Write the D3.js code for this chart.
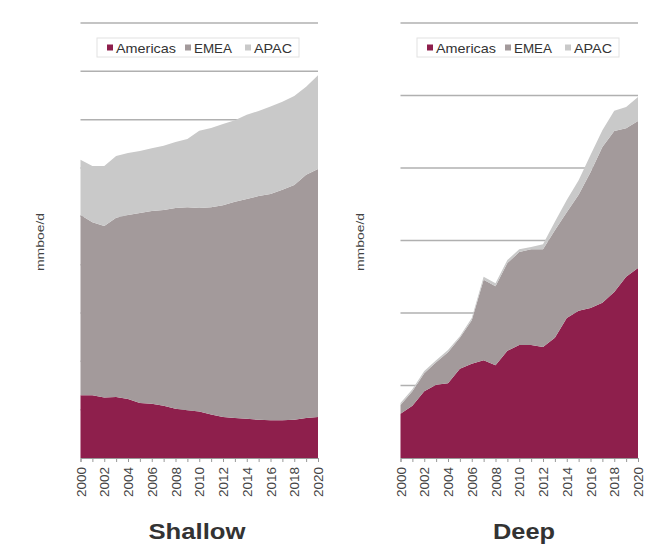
<!DOCTYPE html>
<html><head><meta charset="utf-8">
<script src="https://cdn.jsdelivr.net/npm/d3@7"></script>
<style>body{margin:0;background:#fff}svg{display:block}text{font-family:"Liberation Sans",Arial,sans-serif}</style>
</head><body><svg id="c" width="668" height="550"></svg>
<script>
const years = d3.range(2000, 2021);
const seriesNames = ["Americas", "EMEA", "APAC"];
const colors = ["#8E1F4C", "#A39A9B", "#C9C9C9"];
const titles = ["Shallow", "Deep"];
const yLabel = "mmboe/d";
const shallowAmericas = [1.30,1.30,1.25,1.26,1.22,1.14,1.12,1.08,1.02,0.99,0.96,0.90,0.85,0.83,0.81,0.79,0.78,0.78,0.79,0.83,0.85];
const shallowEMEA = [3.73,3.58,3.55,3.71,3.81,3.93,3.99,4.05,4.15,4.20,4.21,4.29,4.38,4.47,4.55,4.63,4.68,4.77,4.86,5.03,5.13];
const shallowAPAC = [1.14,1.16,1.24,1.28,1.28,1.28,1.30,1.33,1.37,1.41,1.60,1.64,1.68,1.69,1.74,1.76,1.81,1.82,1.84,1.82,1.94];
const deepAmericas = [0.61,0.72,0.92,1.01,1.03,1.23,1.30,1.35,1.28,1.48,1.56,1.56,1.53,1.66,1.93,2.03,2.07,2.14,2.29,2.50,2.62];
const deepEMEA = [0.12,0.20,0.25,0.31,0.43,0.43,0.60,1.11,1.09,1.21,1.28,1.32,1.35,1.48,1.46,1.60,1.87,2.15,2.22,2.05,2.03];
const deepAPAC = [0.03,0.03,0.03,0.03,0.03,0.02,0.03,0.04,0.04,0.04,0.04,0.03,0.07,0.12,0.17,0.20,0.24,0.23,0.28,0.29,0.33];
const shallowTicks = d3.range(0, 10);
const deepTicks = d3.range(0, 7);

const svg = d3.select("#c");
const panels = [
  {x0: 80.5, x1: 318, ymax: 9, ticks: shallowTicks, data: [shallowAmericas, shallowEMEA, shallowAPAC], title: titles[0], tc: 197, tw: 97, yl: 40, leg: 97},
  {x0: 400.5, x1: 638, ymax: 6, ticks: deepTicks, data: [deepAmericas, deepEMEA, deepAPAC], title: titles[1], tc: 524, tw: 62, yl: 360, leg: 417}
];
const yTop = 23, yBot = 458;

panels.forEach(p => {
  const g = svg.append("g");
  const x = d3.scaleLinear().domain([2000, 2020]).range([p.x0, p.x1]);
  const y = d3.scaleLinear().domain([0, p.ymax]).range([yBot, yTop]);
  g.selectAll("line.grid").data(p.ticks.filter(t => t > 0)).join("line")
    .attr("x1", p.x0).attr("x2", p.x1).attr("y1", d => y(d)).attr("y2", d => y(d))
    .attr("stroke", "#b0b0b0").attr("stroke-width", 1.5);
  const rows = years.map((yr, i) => ({year: yr, Americas: p.data[0][i], EMEA: p.data[1][i], APAC: p.data[2][i]}));
  const stack = d3.stack().keys(seriesNames)(rows);
  const area = d3.area().x(d => x(d.data.year)).y0(d => y(d[0])).y1(d => y(d[1]));
  g.selectAll("path.a").data(stack).join("path")
    .attr("d", area).attr("fill", (d, i) => colors[i]);
  const ax = g.append("g").attr("transform", `translate(0,${yBot})`)
    .call(d3.axisBottom(x).tickValues(years).tickSize(4).tickFormat(d => d % 2 === 0 ? d : ""));
  ax.select(".domain").attr("stroke", "#999");
  ax.selectAll(".tick line").attr("stroke", "#999");
  ax.selectAll(".tick text").attr("transform", "rotate(-90)")
    .attr("text-anchor", "end").attr("x", -9).attr("y", 0).attr("dy", "0.35em")
    .attr("font-size", 13.5).attr("fill", "#444").style("font-family", "'Liberation Sans', Arial, sans-serif");
  g.append("text").attr("transform", `translate(${p.yl + 4},242) rotate(-90)`)
    .attr("text-anchor", "middle").attr("font-size", 11).attr("fill", "#444")
    .attr("textLength", 58).attr("lengthAdjust", "spacingAndGlyphs").text(yLabel);
  g.append("text").attr("x", p.tc - p.tw / 2).attr("y", 539)
    .attr("font-size", 22).attr("font-weight", "bold").attr("fill", "#333")
    .attr("textLength", p.tw).attr("lengthAdjust", "spacingAndGlyphs").text(p.title);
  const lg = g.append("g").attr("transform", `translate(${p.leg},38)`);
  lg.append("rect").attr("width", 202).attr("height", 19).attr("fill", "#fff").attr("stroke", "#e2e2e2");
  const offs = [10, 88, 148];
  const tl = [60, 38, 38];
  seriesNames.forEach((s, i) => {
    lg.append("rect").attr("x", offs[i]).attr("y", 6.5).attr("width", 6).attr("height", 6).attr("fill", colors[i]);
    lg.append("text").attr("x", offs[i] + 9).attr("y", 14.5).attr("font-size", 13.5).attr("fill", "#333")
      .attr("textLength", tl[i]).attr("lengthAdjust", "spacingAndGlyphs").text(s);
  });
});
</script></body></html>
